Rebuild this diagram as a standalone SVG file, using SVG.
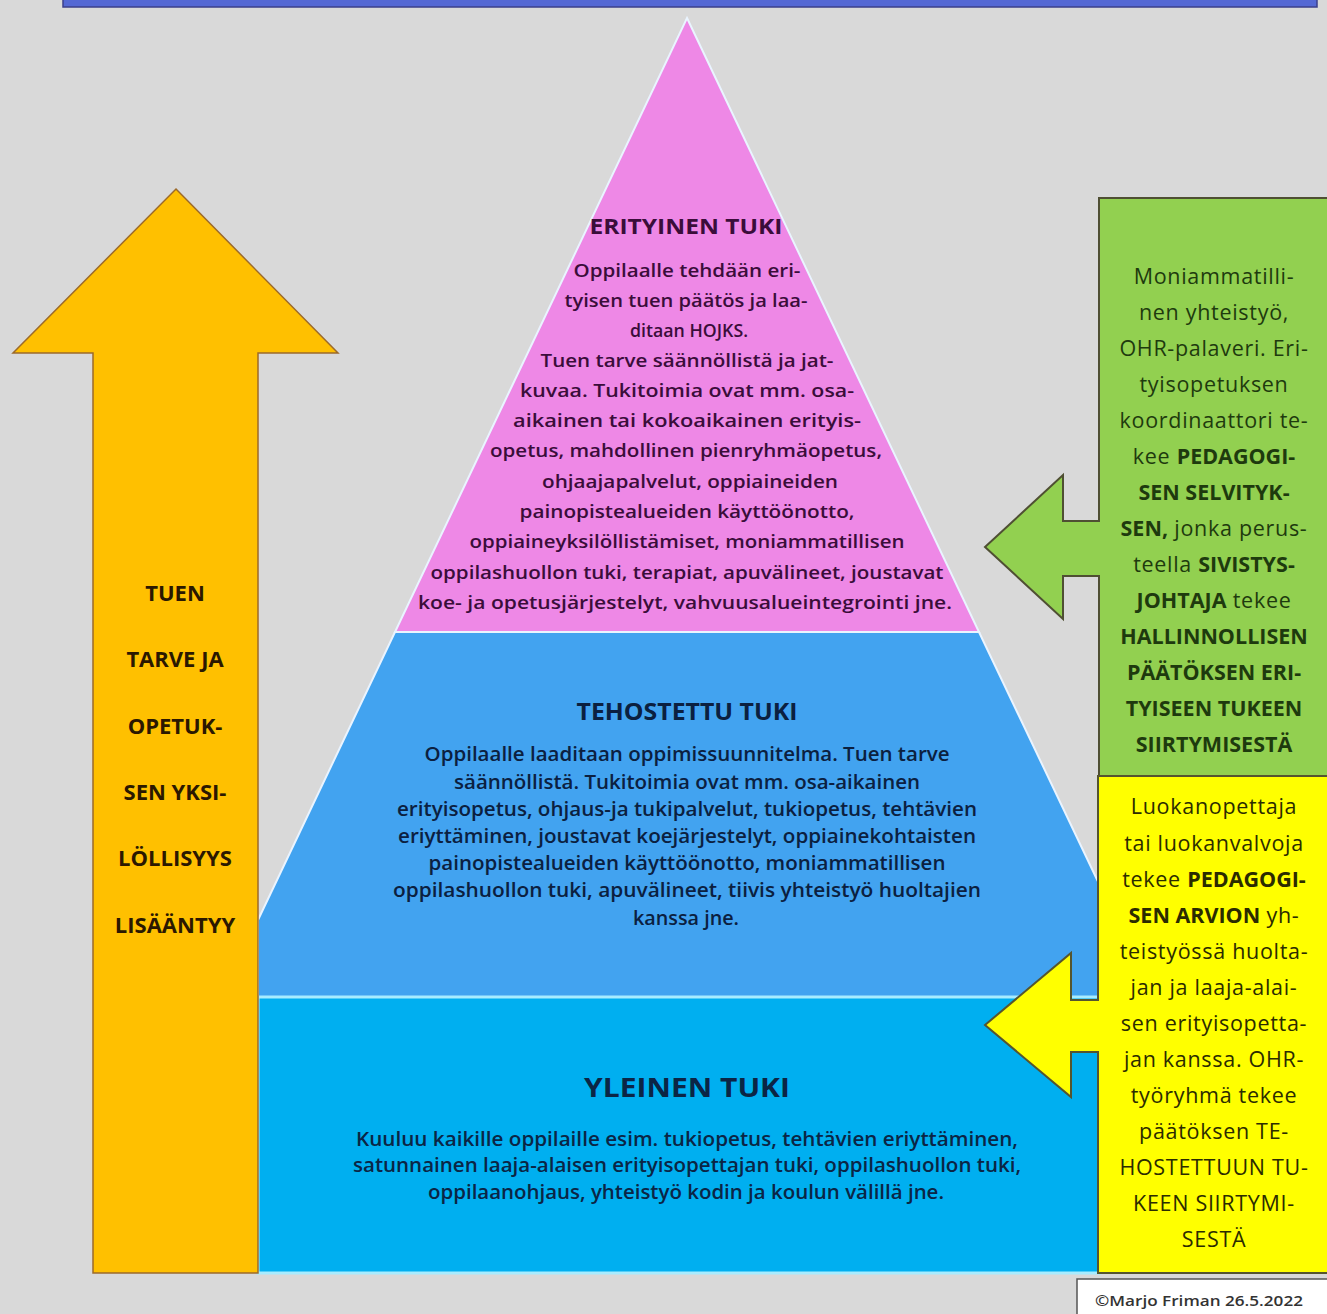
<svg xmlns="http://www.w3.org/2000/svg" width="1327" height="1314" viewBox="0 0 1327 1314">
<style>
text{font-family:"Open Sans","Noto Sans",sans-serif;text-anchor:middle}
.pk{font-size:18px;fill:#3a0d3a;font-weight:600}
.th{font-size:19px;fill:#0b2040;font-weight:600}
.yl{font-size:19px;fill:#0b2545;font-weight:600}
.ttl{font-weight:bold}
.gr{font-size:21.5px;fill:#1e3a0e;letter-spacing:0.7px;font-weight:500}
.ye{font-size:21.5px;fill:#2b2b00;letter-spacing:0.7px;font-weight:500}
.or{font-size:22px;font-weight:bold;fill:#2b1800}
.b{font-weight:bold;letter-spacing:0}
.edge{stroke:#eaf4ff;stroke-width:2}
</style>
<rect x="0" y="0" width="1327" height="1314" fill="#d9d9d9"/>
<rect id="topbar" x="63" y="-3" width="1254" height="10" fill="#5468d4" stroke="#3b3f8a" stroke-width="1.5"/>

<g id="pyramid-tehostettu">
<polygon points="395,632 979,632 1153,997 258,997 258,920" fill="#42a3f0" class="edge"/>
<text class="th ttl" x="687" y="720" style="font-size:23px;font-weight:bold" textLength="221" lengthAdjust="spacingAndGlyphs">TEHOSTETTU TUKI</text>
<text class="th" x="687" y="761" textLength="525" lengthAdjust="spacingAndGlyphs">Oppilaalle laaditaan oppimissuunnitelma. Tuen tarve</text>
<text class="th" x="687" y="789" textLength="466" lengthAdjust="spacingAndGlyphs">säännöllistä. Tukitoimia ovat mm. osa-aikainen</text>
<text class="th" x="687" y="816" textLength="580" lengthAdjust="spacingAndGlyphs">erityisopetus, ohjaus-ja tukipalvelut, tukiopetus, tehtävien</text>
<text class="th" x="687" y="843" textLength="578" lengthAdjust="spacingAndGlyphs">eriyttäminen, joustavat koejärjestelyt, oppiainekohtaisten</text>
<text class="th" x="687" y="870" textLength="517" lengthAdjust="spacingAndGlyphs">painopistealueiden käyttöönotto, moniammatillisen</text>
<text class="th" x="687" y="897" textLength="588" lengthAdjust="spacingAndGlyphs">oppilashuollon tuki,  apuvälineet, tiivis yhteistyö huoltajien</text>
<text class="th" x="686" y="925" textLength="106" lengthAdjust="spacingAndGlyphs">kanssa jne.</text>
</g>

<g id="pyramid-erityinen">
<polygon points="687,18 979,632 395,632" fill="#ee88e6" class="edge"/>
<text class="pk ttl" x="686" y="234" style="font-size:22px;font-weight:bold" textLength="193" lengthAdjust="spacingAndGlyphs">ERITYINEN TUKI</text>
<text class="pk" x="687" y="277" textLength="227" lengthAdjust="spacingAndGlyphs">Oppilaalle tehdään eri-</text>
<text class="pk" x="686" y="307" textLength="243" lengthAdjust="spacingAndGlyphs">tyisen tuen päätös ja laa-</text>
<text class="pk" x="689" y="337" textLength="118" lengthAdjust="spacingAndGlyphs">ditaan HOJKS.</text>
<text class="pk" x="687" y="367" textLength="293" lengthAdjust="spacingAndGlyphs">Tuen tarve säännöllistä ja jat-</text>
<text class="pk" x="687" y="397" textLength="334" lengthAdjust="spacingAndGlyphs">kuvaa. Tukitoimia ovat mm. osa-</text>
<text class="pk" x="687" y="427" textLength="348" lengthAdjust="spacingAndGlyphs">aikainen tai kokoaikainen erityis-</text>
<text class="pk" x="686" y="457" textLength="392" lengthAdjust="spacingAndGlyphs">opetus, mahdollinen pienryhmäopetus,</text>
<text class="pk" x="690" y="488" textLength="296" lengthAdjust="spacingAndGlyphs">ohjaajapalvelut, oppiaineiden</text>
<text class="pk" x="687" y="518" textLength="335" lengthAdjust="spacingAndGlyphs">painopistealueiden käyttöönotto,</text>
<text class="pk" x="687" y="548" textLength="435" lengthAdjust="spacingAndGlyphs">oppiaineyksilöllistämiset, moniammatillisen</text>
<text class="pk" x="687" y="579" textLength="513" lengthAdjust="spacingAndGlyphs">oppilashuollon tuki, terapiat, apuvälineet, joustavat</text>
<text class="pk" x="685" y="609" textLength="534" lengthAdjust="spacingAndGlyphs">koe- ja opetusjärjestelyt, vahvuusalueintegrointi jne.</text>
</g>

<g id="pyramid-yleinen">
<rect x="258" y="997" width="842" height="276" fill="#00aff0" stroke="#a8ecff" stroke-width="3"/>
<text class="yl ttl" x="687" y="1097" style="font-size:27px;font-weight:bold" textLength="206" lengthAdjust="spacingAndGlyphs">YLEINEN TUKI</text>
<text class="yl" x="687" y="1146" textLength="662" lengthAdjust="spacingAndGlyphs">Kuuluu kaikille oppilaille esim. tukiopetus, tehtävien eriyttäminen,</text>
<text class="yl" x="687" y="1172" textLength="668" lengthAdjust="spacingAndGlyphs">satunnainen laaja-alaisen erityisopettajan tuki, oppilashuollon tuki,</text>
<text class="yl" x="686" y="1199" textLength="516" lengthAdjust="spacingAndGlyphs">oppilaanohjaus, yhteistyö kodin ja koulun välillä jne.</text>
</g>

<g id="arrow-tuen-tarve">
<polygon points="176,189 338,353 258,353 258,1273 93,1273 93,353 13,353" fill="#ffc000" stroke="#9c6a2a" stroke-width="1.5"/>
<text class="or" x="175" y="601">TUEN</text>
<text class="or" x="175" y="667">TARVE JA</text>
<text class="or" x="175" y="734">OPETUK-</text>
<text class="or" x="175" y="800">SEN YKSI-</text>
<text class="or" x="175" y="866">LÖLLISYYS</text>
<text class="or" x="175" y="933">LISÄÄNTYY</text>
</g>

<g id="connectors">
<path id="green-arrow" d="M1099,198 H1332 V776 H1099 V576 H1063 V619 L985,547 L1063,475 V521 H1099 Z" fill="#92d050" stroke="#4f4f33" stroke-width="2"/>
<path id="yellow-arrow" d="M1098,776 H1332 V1273 H1098 V1052 H1071 V1097 L985,1025 L1071,953 V1000 H1098 Z" fill="#ffff00" stroke="#55552f" stroke-width="2"/>
</g>

<g id="box-green">
<text class="gr" x="1214" y="284">Moniammatilli-</text>
<text class="gr" x="1214" y="320">nen yhteistyö,</text>
<text class="gr" x="1214" y="356">OHR-palaveri. Eri-</text>
<text class="gr" x="1214" y="392">tyisopetuksen</text>
<text class="gr" x="1214" y="428">koordinaattori te-</text>
<text class="gr" x="1214" y="464">kee <tspan class="b">PEDAGOGI-</tspan></text>
<text class="gr b" x="1214" y="500">SEN SELVITYK-</text>
<text class="gr" x="1214" y="536"><tspan class="b">SEN,</tspan> jonka perus-</text>
<text class="gr" x="1214" y="572">teella <tspan class="b">SIVISTYS-</tspan></text>
<text class="gr" x="1214" y="608"><tspan class="b">JOHTAJA</tspan> tekee</text>
<text class="gr b" x="1214" y="644">HALLINNOLLISEN</text>
<text class="gr b" x="1214" y="680">PÄÄTÖKSEN ERI-</text>
<text class="gr b" x="1214" y="716">TYISEEN TUKEEN</text>
<text class="gr b" x="1214" y="752">SIIRTYMISESTÄ</text>
</g>

<g id="box-yellow">
<text class="ye" x="1214" y="814">Luokanopettaja</text>
<text class="ye" x="1214" y="851">tai luokanvalvoja</text>
<text class="ye" x="1214" y="887">tekee <tspan class="b">PEDAGOGI-</tspan></text>
<text class="ye" x="1214" y="923"><tspan class="b">SEN ARVION</tspan> yh-</text>
<text class="ye" x="1214" y="959">teistyössä huolta-</text>
<text class="ye" x="1214" y="995">jan ja laaja-alai-</text>
<text class="ye" x="1214" y="1031">sen erityisopetta-</text>
<text class="ye" x="1214" y="1067">jan kanssa. OHR-</text>
<text class="ye" x="1214" y="1103">työryhmä tekee</text>
<text class="ye" x="1214" y="1139">päätöksen TE-</text>
<text class="ye" x="1214" y="1175">HOSTETTUUN TU-</text>
<text class="ye" x="1214" y="1211">KEEN SIIRTYMI-</text>
<text class="ye" x="1214" y="1247">SESTÄ</text>
</g>

<g id="copyright">
<rect x="1077" y="1279" width="260" height="40" fill="#ffffff" stroke="#555555" stroke-width="1.5"/>
<text x="1199" y="1306" font-size="14" fill="#333333" font-weight="600" textLength="208" lengthAdjust="spacingAndGlyphs">©Marjo Friman 26.5.2022</text>
</g>
</svg>
